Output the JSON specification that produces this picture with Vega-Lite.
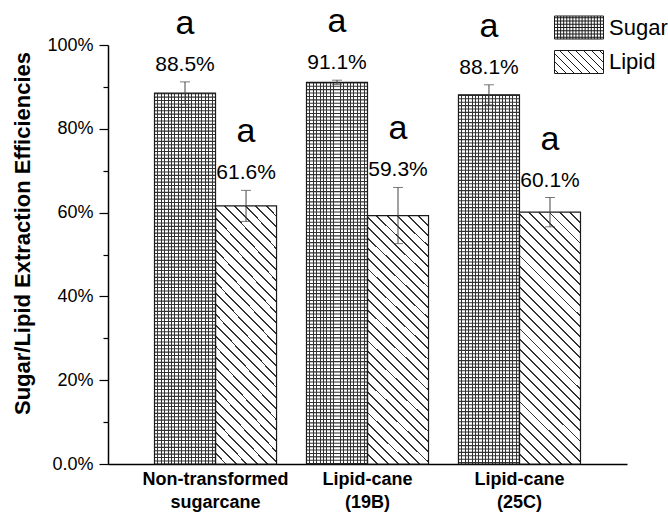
{
  "$schema": "https://vega.github.io/schema/vega-lite/v6.json",
  "width": 519,
  "height": 419,
  "autosize": {"type": "none"},
  "padding": {"left": 108, "top": 45, "right": 41, "bottom": 49},
  "background": "white",
  "config": {"view": {"stroke": null}, "font": "Liberation Sans", "axis": {"grid": false}},
  "data": {
    "values": [
      {"group": "Non-transformed sugarcane", "series": "Sugar", "value": 88.5, "lower": 85.8, "upper": 91.2, "label": "88.5%", "letter": "a"},
      {"group": "Non-transformed sugarcane", "series": "Lipid", "value": 61.6, "lower": 57.9, "upper": 65.3, "label": "61.6%", "letter": "a"},
      {"group": "Lipid-cane (19B)", "series": "Sugar", "value": 91.1, "lower": 90.6, "upper": 91.6, "label": "91.1%", "letter": "a"},
      {"group": "Lipid-cane (19B)", "series": "Lipid", "value": 59.3, "lower": 52.6, "upper": 66.0, "label": "59.3%", "letter": "a"},
      {"group": "Lipid-cane (25C)", "series": "Sugar", "value": 88.1, "lower": 85.7, "upper": 90.5, "label": "88.1%", "letter": "a"},
      {"group": "Lipid-cane (25C)", "series": "Lipid", "value": 60.1, "lower": 56.6, "upper": 63.6, "label": "60.1%", "letter": "a"}
    ]
  },
  "encoding": {
    "x": {
      "field": "group", "type": "nominal", "sort": null,
      "scale": {"paddingInner": 0.197, "paddingOuter": 0.306},
      "axis": {
        "title": null, "ticks": false, "domainColor": "black", "domainWidth": 1.5,
        "labelFont": "Liberation Sans", "labelFontSize": 18, "labelFontWeight": "bold", "labelColor": "black",
        "labelPadding": 6, "labelLineHeight": 23, "labelAngle": 0, "labelExpr": "split(datum.label, ' ')"
      }
    },
    "xOffset": {"field": "series", "type": "nominal", "sort": null, "scale": {"domain": ["Sugar", "Lipid"], "paddingInner": 0, "paddingOuter": 0}}
  },
  "layer": [
    {
      "transform": [{"filter": "datum.series === 'Sugar'"}],
      "mark": {"type": "bar", "strokeWidth": 0, "fill": {"gradient": "linear", "x1": 0, "y1": 0, "x2": 1, "y2": 0, "stops": [
        {"offset": 0, "color": "#fff"},
        {"offset": 0.0476, "color": "#fff"}, {"offset": 0.0476, "color": "#333"}, {"offset": 0.0636, "color": "#333"}, {"offset": 0.0636, "color": "#fff"},
        {"offset": 0.1031, "color": "#fff"}, {"offset": 0.1031, "color": "#333"}, {"offset": 0.1191, "color": "#333"}, {"offset": 0.1191, "color": "#fff"},
        {"offset": 0.1587, "color": "#fff"}, {"offset": 0.1587, "color": "#333"}, {"offset": 0.1747, "color": "#333"}, {"offset": 0.1747, "color": "#fff"},
        {"offset": 0.2142, "color": "#fff"}, {"offset": 0.2142, "color": "#333"}, {"offset": 0.2302, "color": "#333"}, {"offset": 0.2302, "color": "#fff"},
        {"offset": 0.2698, "color": "#fff"}, {"offset": 0.2698, "color": "#333"}, {"offset": 0.2858, "color": "#333"}, {"offset": 0.2858, "color": "#fff"},
        {"offset": 0.3253, "color": "#fff"}, {"offset": 0.3253, "color": "#333"}, {"offset": 0.3413, "color": "#333"}, {"offset": 0.3413, "color": "#fff"},
        {"offset": 0.3809, "color": "#fff"}, {"offset": 0.3809, "color": "#333"}, {"offset": 0.3969, "color": "#333"}, {"offset": 0.3969, "color": "#fff"},
        {"offset": 0.4364, "color": "#fff"}, {"offset": 0.4364, "color": "#333"}, {"offset": 0.4524, "color": "#333"}, {"offset": 0.4524, "color": "#fff"},
        {"offset": 0.492, "color": "#fff"}, {"offset": 0.492, "color": "#333"}, {"offset": 0.508, "color": "#333"}, {"offset": 0.508, "color": "#fff"},
        {"offset": 0.5476, "color": "#fff"}, {"offset": 0.5476, "color": "#333"}, {"offset": 0.5636, "color": "#333"}, {"offset": 0.5636, "color": "#fff"},
        {"offset": 0.6031, "color": "#fff"}, {"offset": 0.6031, "color": "#333"}, {"offset": 0.6191, "color": "#333"}, {"offset": 0.6191, "color": "#fff"},
        {"offset": 0.6587, "color": "#fff"}, {"offset": 0.6587, "color": "#333"}, {"offset": 0.6747, "color": "#333"}, {"offset": 0.6747, "color": "#fff"},
        {"offset": 0.7142, "color": "#fff"}, {"offset": 0.7142, "color": "#333"}, {"offset": 0.7302, "color": "#333"}, {"offset": 0.7302, "color": "#fff"},
        {"offset": 0.7698, "color": "#fff"}, {"offset": 0.7698, "color": "#333"}, {"offset": 0.7858, "color": "#333"}, {"offset": 0.7858, "color": "#fff"},
        {"offset": 0.8253, "color": "#fff"}, {"offset": 0.8253, "color": "#333"}, {"offset": 0.8413, "color": "#333"}, {"offset": 0.8413, "color": "#fff"},
        {"offset": 0.8809, "color": "#fff"}, {"offset": 0.8809, "color": "#333"}, {"offset": 0.8969, "color": "#333"}, {"offset": 0.8969, "color": "#fff"},
        {"offset": 0.9364, "color": "#fff"}, {"offset": 0.9364, "color": "#333"}, {"offset": 0.9524, "color": "#333"}, {"offset": 0.9524, "color": "#fff"},
        {"offset": 1, "color": "#fff"}
      ]}},
      "encoding": {
        "y": {
          "field": "value", "type": "quantitative",
          "scale": {"domain": [0, 100], "nice": false},
          "axis": {
            "title": "Sugar/Lipid Extraction Efficiencies",
            "values": [0, 10, 20, 30, 40, 50, 60, 70, 80, 90, 100],
            "labelExpr": "datum.value % 20 === 0 ? (datum.value === 0 ? '0.0%' : datum.value + '%') : ''",
            "tickSize": {"condition": {"test": "datum.value % 20 === 0", "value": 9}, "value": 5},
            "tickColor": "black", "tickWidth": 1.2,
            "domainColor": "black", "domainWidth": 1.5,
            "labelPadding": 6, "labelFontSize": 18, "labelColor": "black", "labelFont": "Liberation Sans",
            "titleFont": "Liberation Sans", "titleFontSize": 22, "titleFontWeight": "bold", "titleColor": "black",
            "titleX": -86, "titleY": 188, "titleBaseline": "middle"
          }
        }
      }
    },
    {
      "transform": [{"filter": "datum.series === 'Lipid'"}],
      "mark": {"type": "bar", "strokeWidth": 0, "fill": {"gradient": "linear", "x1": 0, "y1": 1, "x2": 0.284, "y2": -0.1733, "stops": [
        {"offset": 0, "color": "#fff"},
        {"offset": 0.0303, "color": "#fff"}, {"offset": 0.0303, "color": "#333"}, {"offset": 0.0363, "color": "#333"}, {"offset": 0.0363, "color": "#fff"},
        {"offset": 0.0637, "color": "#fff"}, {"offset": 0.0637, "color": "#333"}, {"offset": 0.0697, "color": "#333"}, {"offset": 0.0697, "color": "#fff"},
        {"offset": 0.097, "color": "#fff"}, {"offset": 0.097, "color": "#333"}, {"offset": 0.103, "color": "#333"}, {"offset": 0.103, "color": "#fff"},
        {"offset": 0.1303, "color": "#fff"}, {"offset": 0.1303, "color": "#333"}, {"offset": 0.1363, "color": "#333"}, {"offset": 0.1363, "color": "#fff"},
        {"offset": 0.1637, "color": "#fff"}, {"offset": 0.1637, "color": "#333"}, {"offset": 0.1697, "color": "#333"}, {"offset": 0.1697, "color": "#fff"},
        {"offset": 0.197, "color": "#fff"}, {"offset": 0.197, "color": "#333"}, {"offset": 0.203, "color": "#333"}, {"offset": 0.203, "color": "#fff"},
        {"offset": 0.2303, "color": "#fff"}, {"offset": 0.2303, "color": "#333"}, {"offset": 0.2363, "color": "#333"}, {"offset": 0.2363, "color": "#fff"},
        {"offset": 0.2637, "color": "#fff"}, {"offset": 0.2637, "color": "#333"}, {"offset": 0.2697, "color": "#333"}, {"offset": 0.2697, "color": "#fff"},
        {"offset": 0.297, "color": "#fff"}, {"offset": 0.297, "color": "#333"}, {"offset": 0.303, "color": "#333"}, {"offset": 0.303, "color": "#fff"},
        {"offset": 0.3303, "color": "#fff"}, {"offset": 0.3303, "color": "#333"}, {"offset": 0.3363, "color": "#333"}, {"offset": 0.3363, "color": "#fff"},
        {"offset": 0.3637, "color": "#fff"}, {"offset": 0.3637, "color": "#333"}, {"offset": 0.3697, "color": "#333"}, {"offset": 0.3697, "color": "#fff"},
        {"offset": 0.397, "color": "#fff"}, {"offset": 0.397, "color": "#333"}, {"offset": 0.403, "color": "#333"}, {"offset": 0.403, "color": "#fff"},
        {"offset": 0.4303, "color": "#fff"}, {"offset": 0.4303, "color": "#333"}, {"offset": 0.4363, "color": "#333"}, {"offset": 0.4363, "color": "#fff"},
        {"offset": 0.4637, "color": "#fff"}, {"offset": 0.4637, "color": "#333"}, {"offset": 0.4697, "color": "#333"}, {"offset": 0.4697, "color": "#fff"},
        {"offset": 0.497, "color": "#fff"}, {"offset": 0.497, "color": "#333"}, {"offset": 0.503, "color": "#333"}, {"offset": 0.503, "color": "#fff"},
        {"offset": 0.5303, "color": "#fff"}, {"offset": 0.5303, "color": "#333"}, {"offset": 0.5363, "color": "#333"}, {"offset": 0.5363, "color": "#fff"},
        {"offset": 0.5637, "color": "#fff"}, {"offset": 0.5637, "color": "#333"}, {"offset": 0.5697, "color": "#333"}, {"offset": 0.5697, "color": "#fff"},
        {"offset": 0.597, "color": "#fff"}, {"offset": 0.597, "color": "#333"}, {"offset": 0.603, "color": "#333"}, {"offset": 0.603, "color": "#fff"},
        {"offset": 0.6303, "color": "#fff"}, {"offset": 0.6303, "color": "#333"}, {"offset": 0.6363, "color": "#333"}, {"offset": 0.6363, "color": "#fff"},
        {"offset": 0.6637, "color": "#fff"}, {"offset": 0.6637, "color": "#333"}, {"offset": 0.6697, "color": "#333"}, {"offset": 0.6697, "color": "#fff"},
        {"offset": 0.697, "color": "#fff"}, {"offset": 0.697, "color": "#333"}, {"offset": 0.703, "color": "#333"}, {"offset": 0.703, "color": "#fff"},
        {"offset": 0.7303, "color": "#fff"}, {"offset": 0.7303, "color": "#333"}, {"offset": 0.7363, "color": "#333"}, {"offset": 0.7363, "color": "#fff"},
        {"offset": 0.7637, "color": "#fff"}, {"offset": 0.7637, "color": "#333"}, {"offset": 0.7697, "color": "#333"}, {"offset": 0.7697, "color": "#fff"},
        {"offset": 0.797, "color": "#fff"}, {"offset": 0.797, "color": "#333"}, {"offset": 0.803, "color": "#333"}, {"offset": 0.803, "color": "#fff"},
        {"offset": 0.8303, "color": "#fff"}, {"offset": 0.8303, "color": "#333"}, {"offset": 0.8363, "color": "#333"}, {"offset": 0.8363, "color": "#fff"},
        {"offset": 0.8637, "color": "#fff"}, {"offset": 0.8637, "color": "#333"}, {"offset": 0.8697, "color": "#333"}, {"offset": 0.8697, "color": "#fff"},
        {"offset": 0.897, "color": "#fff"}, {"offset": 0.897, "color": "#333"}, {"offset": 0.903, "color": "#333"}, {"offset": 0.903, "color": "#fff"},
        {"offset": 0.9303, "color": "#fff"}, {"offset": 0.9303, "color": "#333"}, {"offset": 0.9363, "color": "#333"}, {"offset": 0.9363, "color": "#fff"},
        {"offset": 0.9637, "color": "#fff"}, {"offset": 0.9637, "color": "#333"}, {"offset": 0.9697, "color": "#333"}, {"offset": 0.9697, "color": "#fff"},
        {"offset": 1, "color": "#fff"}
      ]}},
      "encoding": {"y": {"field": "value", "type": "quantitative"}}
    },
    {
      "transform": [{"filter": "datum.series === 'Sugar'"}],
      "mark": {"type": "rule", "strokeWidth": 61, "strokeDash": [1.1, 2.3], "strokeCap": "butt", "color": "#333"},
      "encoding": {"y": {"field": "value", "type": "quantitative"}, "y2": {"datum": 0}}
    },
    {
      "mark": {"type": "bar", "fill": "white", "fillOpacity": 0, "strokeWidth": 1.2},
      "encoding": {
        "y": {"field": "value", "type": "quantitative"},
        "stroke": {
          "field": "series", "type": "nominal",
          "scale": {"domain": ["Sugar", "Lipid"], "range": ["#1a1a1a", "#1a1a1a"]},
          "legend": {
            "title": null, "orient": "none", "legendX": 458, "legendY": -30.5, "padding": 0,
            "symbolSize": 625, "symbolStrokeWidth": 1, "symbolFillColor": "white", "symbolStrokeColor": "#333",
            "symbolType": {"expr": "datum.value === 'Sugar' ? 'M-1.96,-0.92H1.96V0.92H-1.96Z M-1.715,-0.92V0.92 M-1.47,-0.92V0.92 M-1.225,-0.92V0.92 M-0.98,-0.92V0.92 M-0.735,-0.92V0.92 M-0.49,-0.92V0.92 M-0.245,-0.92V0.92 M0,-0.92V0.92 M0.245,-0.92V0.92 M0.49,-0.92V0.92 M0.735,-0.92V0.92 M0.98,-0.92V0.92 M1.225,-0.92V0.92 M1.47,-0.92V0.92 M1.715,-0.92V0.92 M-1.96,-0.78H1.96 M-1.96,-0.52H1.96 M-1.96,-0.26H1.96 M-1.96,0H1.96 M-1.96,0.26H1.96 M-1.96,0.52H1.96 M-1.96,0.78H1.96' : 'M-1.96,-0.92H1.96V0.92H-1.96Z M-1.96,0.6L-1.64,0.92 M-1.96,-0.04L-1,0.92 M-1.96,-0.68L-0.36,0.92 M-1.56,-0.92L0.28,0.92 M-0.92,-0.92L0.92,0.92 M-0.28,-0.92L1.56,0.92 M0.36,-0.92L1.96,0.68 M1,-0.92L1.96,0.04 M1.64,-0.92L1.96,-0.6'"},
            "labelFontSize": 22, "labelFont": "Liberation Sans", "labelColor": "black",
            "labelOffset": 17, "rowPadding": 6.5,
            "encode": {
              "symbols": {
                "update": {
                  "fill": {"value": "white"},
                  "fillOpacity": {"value": 1},
                  "stroke": {"value": "#333"}
                }
              }
            }
          }
        }
      }
    },
    {
      "mark": {"type": "rule", "color": "#444", "strokeWidth": 1},
      "encoding": {"y": {"field": "lower", "type": "quantitative"}, "y2": {"field": "upper"}}
    },
    {
      "mark": {"type": "tick", "color": "#444", "size": 10, "thickness": 1},
      "encoding": {"y": {"field": "upper", "type": "quantitative"}}
    },
    {
      "mark": {"type": "tick", "color": "#444", "size": 10, "thickness": 1},
      "encoding": {"y": {"field": "lower", "type": "quantitative"}}
    },
    {
      "mark": {"type": "text", "fontSize": 21, "font": "Liberation Sans", "baseline": "middle", "dy": -17, "color": "black"},
      "encoding": {"y": {"field": "upper", "type": "quantitative"}, "text": {"field": "label"}}
    },
    {
      "mark": {"type": "text", "fontSize": 34, "font": "Liberation Sans", "baseline": "middle", "dy": -58, "color": "black"},
      "encoding": {"y": {"field": "upper", "type": "quantitative"}, "text": {"field": "letter"}}
    }
  ]
}
